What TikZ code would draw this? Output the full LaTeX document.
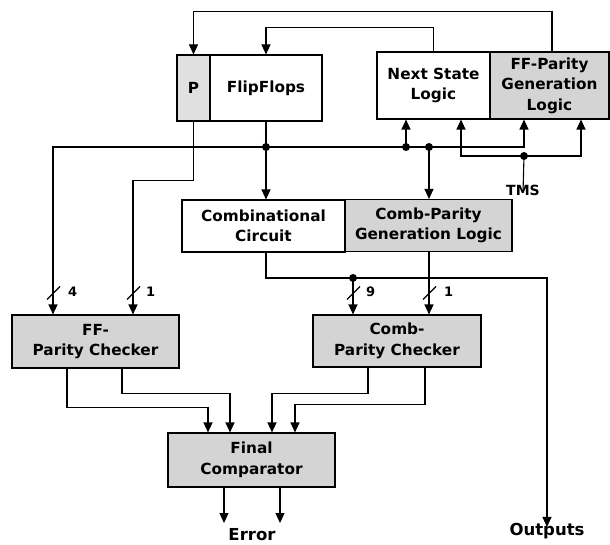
\documentclass[tikz,border=0pt]{standalone}
\usepackage{fontspec}
\setmainfont{DejaVu Sans}
\usetikzlibrary{arrows.meta,calc}
\tikzset{
  blk/.style={draw, line width=1.1pt, inner sep=0pt, align=center,
    font=\bfseries\fontsize{15.3}{20.5}\selectfont},
  shd/.style={blk, fill=black!17},
  wire/.style={line width=1.1pt},
  arr/.style={wire, -{Triangle[length=10pt,width=9pt]}},
  jdot/.style={circle, fill=black, inner sep=0pt, minimum size=8pt},
  lbl/.style={inner sep=0pt, font=\bfseries\fontsize{15}{18}\selectfont},
  bw/.style={inner sep=0pt, font=\bfseries\fontsize{13}{15}\selectfont, anchor=west},
  slash/.style={wire}
}
\begin{document}
\begin{tikzpicture}[x=1pt,y=-1pt]
\useasboundingbox (0,0) rectangle (610,545);
% boxes
\node[shd, fill=black!12, minimum width=33pt, minimum height=66pt] (P) at (193.5,88) {P};
\node[blk, minimum width=112pt, minimum height=66pt] (ff) at (266,88) {FlipFlops};
\node[blk, minimum width=113pt, minimum height=67pt] (ns) at (433.5,85.5) {Next State\\Logic};
\node[shd, minimum width=119pt, minimum height=67pt] (ffpg) at (549.5,85.5) {FF-Parity\\Generation\\Logic};
\node[blk, minimum width=163pt, minimum height=52pt] (comb) at (263.5,226) {Combinational\\Circuit};
\node[shd, minimum width=167pt, minimum height=52pt] (cpg) at (428.5,225.5) {Comb-Parity\\Generation Logic};
\node[shd, minimum width=167pt, minimum height=53pt] (ffchk) at (95.5,341.5) {FF-\\Parity Checker};
\node[shd, minimum width=168pt, minimum height=52pt] (cchk) at (397,341) {Comb-\\Parity Checker};
\node[shd, minimum width=167pt, minimum height=54pt] (final) at (251.5,460) {Final\\Comparator};
% labels
\node[lbl, font=\bfseries\fontsize{14}{16}\selectfont] (tms) at (523,190) {TMS};
\node[lbl, font=\bfseries\fontsize{16.5}{18}\selectfont] (outputs) at (547,531) {Outputs};
\node[lbl, font=\bfseries\fontsize{16.5}{18}\selectfont] (error) at (252,535) {Error};
% junctions
\coordinate (b1) at (266,147);
\coordinate (b2) at (406,147);
\coordinate (b3) at (429,147);
\coordinate (tdot) at (524,156);
\coordinate (cdot) at (353,278);
\coordinate (e1) at (224,523);
\coordinate (e2) at (280,523);
% feedback lines
\draw[arr] ([xshift=2.5pt]ffpg.north) -- ++(0,-40) -| (P.north);
\draw[arr] (ns.north) -- ++(0,-24) -| (ff.north);
% bus from flipflops
\draw[wire] (ff.south) -- (b1);
\draw[arr] (b1) -- (b1 |- comb.north);
\draw[arr] (b1) -| ([xshift=-42.5pt]ffchk.north);
\draw[arr] (b1) -- (b2) -- (b3) -| ([xshift=-25.5pt]ffpg.south);
\draw[arr] (b2) -- (b2 |- ns.south);
\draw[arr] (b3) -- (b3 |- cpg.north);
% P output
\draw[arr] (P.south) -- ++(0,59) -| ([xshift=37.5pt]ffchk.north);
% TMS
\draw[wire] ([yshift=-8pt]tms.north) -- (tdot);
\draw[arr] (tdot) -| ([xshift=27.5pt]ns.south);
\draw[arr] (tdot) -| ([xshift=31.5pt]ffpg.south);
% combinational outputs
\draw[wire] ([xshift=2.5pt]comb.south) |- (cdot);
\draw[arr] (cdot) -| ([yshift=-4pt]outputs.north);
\draw[arr] (cdot) -- (cdot |- cchk.north);
\draw[arr] ([xshift=0.5pt]cpg.south) -- ([xshift=0.5pt]cpg.south |- cchk.north);
% bus width marks
\draw[slash] (47,299.5) -- (60,286.5);
\node[bw] (w4) at (68,292) {4};
\draw[slash] (127,299.5) -- (140,286.5);
\node[bw] (w1a) at (146,292) {1};
\draw[slash] (347,299.5) -- (360,286.5);
\node[bw] (w9) at (366,292) {9};
\draw[slash] (423,299.5) -- (436,286.5);
\node[bw] (w1b) at (444,292) {1};
% checker outputs
\draw[arr] ([xshift=-28.5pt]ffchk.south) -- ++(0,39) -| ([xshift=-43.5pt]final.north);
\draw[arr] ([xshift=26.5pt]ffchk.south) -- ++(0,25) -| ([xshift=-21.5pt]final.north);
\draw[arr] ([xshift=-29pt]cchk.south) -- ++(0,26) -| ([xshift=20.5pt]final.north);
\draw[arr] ([xshift=28pt]cchk.south) -- ++(0,37) -| ([xshift=43.5pt]final.north);
% error outputs
\draw[arr] (final.south -| e1) -- (e1);
\draw[arr] (final.south -| e2) -- (e2);
% dots
\foreach \c in {b1,b2,b3,tdot,cdot} \node[jdot] at (\c) {};
\end{tikzpicture}
\end{document}
